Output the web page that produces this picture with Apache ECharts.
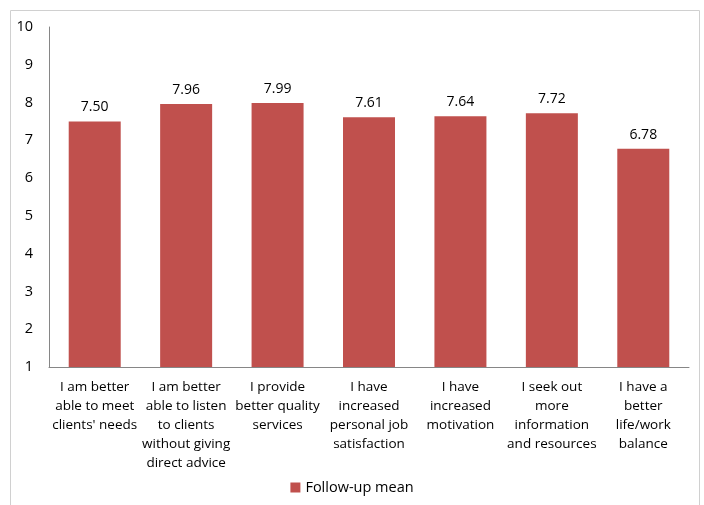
<!DOCTYPE html>
<html><head><meta charset="utf-8">
<script src="https://cdn.jsdelivr.net/npm/echarts@6/dist/echarts.min.js"></script>
<style>html,body{margin:0;padding:0;background:#fff}#c{width:704px;height:505px}</style>
</head><body><div id="c"></div>
<script>
const categories = [
  "I am better\nable to meet\nclients' needs",
  "I am better\nable to listen\nto clients\nwithout giving\ndirect advice",
  "I provide\nbetter quality\nservices",
  "I have\nincreased\npersonal job\nsatisfaction",
  "I have\nincreased\nmotivation",
  "I seek out\nmore\ninformation\nand resources",
  "I have a\nbetter\nlife/work\nbalance"
];
const followUpMean = [7.50, 7.96, 7.99, 7.61, 7.64, 7.72, 6.78];
const seriesName = "Follow-up mean";
const FONT = "Open Sans";
const chart = echarts.init(document.getElementById('c'));
chart.setOption({
  animation: false,
  textStyle: { fontFamily: FONT },
  graphic: [{ type: 'rect', shape: { x: 10.5, y: 10.5, width: 689, height: 600 }, style: { fill: 'none', stroke: '#d0d0d0', lineWidth: 1 }, silent: true }],
  grid: { left: 49, top: 27, right: 15, bottom: 138 },
  legend: { bottom: 5, left: 'center', itemWidth: 10, itemHeight: 10, icon: 'rect', itemGap: 5,
    textStyle: { fontFamily: FONT, fontSize: 14.5, color: '#000' }, data: [seriesName] },
  xAxis: { type: 'category', data: categories,
    axisLine: { lineStyle: { color: '#868686' } }, axisTick: { show: false },
    axisLabel: { interval: 0, fontFamily: FONT, fontSize: 13.5, color: '#000', lineHeight: 19, margin: 11 } },
  yAxis: { type: 'value', min: 1, max: 10, interval: 1,
    axisLine: { show: true, lineStyle: { color: '#868686' } }, axisTick: { show: false },
    splitLine: { show: false },
    axisLabel: { fontFamily: FONT, fontSize: 14.5, color: '#000', margin: 16 } },
  series: [{ name: seriesName, type: 'bar', data: followUpMean, barWidth: 52,
    itemStyle: { color: '#C0504D' },
    label: { show: true, position: 'top', distance: 7, fontFamily: FONT, fontSize: 14, color: '#000',
      formatter: p => p.value.toFixed(2) } }]
});
</script></body></html>
